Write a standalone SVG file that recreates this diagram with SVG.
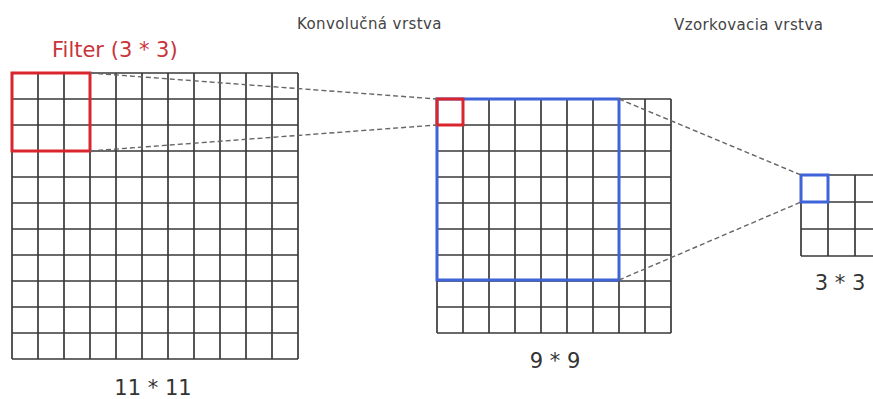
<svg xmlns="http://www.w3.org/2000/svg" width="873" height="399" viewBox="0 0 873 399">
  <style>
    .grid { fill: none; stroke: #3a3a3a; stroke-width: 1.7; }
    .hl-red { fill: none; stroke: #d9262e; stroke-width: 3; }
    .hl-blue { fill: none; stroke: #3f63d8; stroke-width: 3; }
    .conn { fill: none; stroke: #666; stroke-width: 1.4; stroke-dasharray: 5 3; }
    .title { font-family: "DejaVu Sans", sans-serif; font-size: 15px; letter-spacing: 0.4px; fill: #444; }
    .size { font-family: "DejaVu Sans", sans-serif; font-size: 21px; fill: #333; text-anchor: middle; }
    .flabel { font-family: "DejaVu Sans", sans-serif; font-size: 21px; fill: #c8343a; }
  </style>
  <rect width="873" height="399" fill="#fff"/>

  <!-- input map 11 x 11 -->
  <g id="input">
    <path class="grid" d="M12 73V359M38 73V359M64 73V359M90 73V359M116 73V359M142 73V359M168 73V359M194 73V359M220 73V359M246 73V359M272 73V359M298 73V359
      M12 73H298M12 99H298M12 125H298M12 151H298M12 177H298M12 203H298M12 229H298M12 255H298M12 281H298M12 307H298M12 333H298M12 359H298"/>
    <rect class="hl-red" x="12" y="73" width="78" height="78"/>
    <text class="flabel" x="52" y="57">Filter (3 * 3)</text>
    <text class="size" x="153" y="395">11 * 11</text>
  </g>

  <!-- convolution layer 9 x 9 -->
  <g id="conv">
    <text class="title" x="297" y="29">Konvolučná vrstva</text>
    <path class="grid" d="M437 99V333M463 99V333M489 99V333M515 99V333M541 99V333M567 99V333M593 99V333M619 99V333M645 99V333M671 99V333
      M437 99H671M437 125H671M437 151H671M437 177H671M437 203H671M437 229H671M437 255H671M437 281H671M437 307H671M437 333H671"/>
    <rect class="hl-blue" x="437" y="99" width="182" height="181"/>
    <rect class="hl-red" x="437" y="99" width="26" height="26"/>
    <text class="size" x="555" y="368">9 * 9</text>
  </g>

  <!-- pooling layer 3 x 3 -->
  <g id="pool">
    <text class="title" x="674" y="30">Vzorkovacia vrstva</text>
    <path class="grid" d="M801 175V256M828 175V256M855 175V256M882 175V256
      M801 175H882M801 202H882M801 229H882M801 256H882"/>
    <rect class="hl-blue" x="801" y="175" width="27" height="27"/>
    <text class="size" x="840" y="290">3 * 3</text>
  </g>

  <g id="connectors">
    <line class="conn" x1="90" y1="73" x2="437" y2="99"/>
    <line class="conn" x1="90" y1="151" x2="437" y2="125"/>
    <line class="conn" x1="619" y1="99" x2="801" y2="175"/>
    <line class="conn" x1="619" y1="280" x2="801" y2="202"/>
  </g>
</svg>
